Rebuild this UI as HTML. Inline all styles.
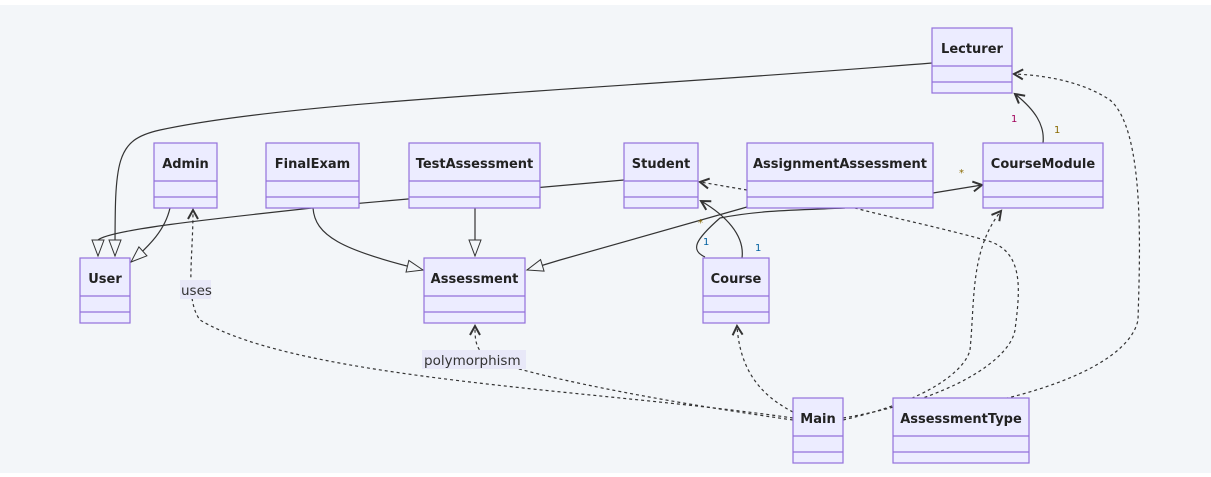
<!DOCTYPE html>
<html><head><style>
html,body{margin:0;padding:0;background:#fff;}
svg{display:block;}
text{font-family:"DejaVu Sans","Liberation Sans",sans-serif;}
</style></head><body>
<svg width="1211" height="477" viewBox="0 0 1211 477" xmlns="http://www.w3.org/2000/svg">
<defs>
<marker id="tri" markerWidth="20" markerHeight="20" refX="17" refY="7" orient="auto" markerUnits="userSpaceOnUse">
<path d="M1,1 L17,7 L1,13 Z" fill="#f3f6f9" stroke="#333" stroke-width="1"/></marker>
<marker id="arr" markerWidth="14" markerHeight="14" refX="10" refY="6" orient="auto" markerUnits="userSpaceOnUse">
<path d="M1,1 L10,6 L1,11" fill="none" stroke="#333" stroke-width="2"/></marker>
</defs>
<rect x="0" y="5" width="1211" height="468" fill="#f3f6f9"/>
<g fill="none" stroke="#333" stroke-width="1.2">
<path d="M932,63 C600,90 300,100 160,130 C115,140 115,160 115,256" marker-end="url(#tri)"/>
<path d="M170,208 C165,230 150,245 131,262" marker-end="url(#tri)"/>
<path d="M624,180 L340,205 C200,220 110,230 98,240 L98,256" marker-end="url(#tri)"/>
<path d="M313,208 C315,235 340,250 423,270" marker-end="url(#tri)"/>
<path d="M475,208 L475,256" marker-end="url(#tri)"/>
<path d="M747,207 L560,260 L527,270" marker-end="url(#tri)"/>
<path d="M742,258 C745,235 725,215 701,201" marker-end="url(#arr)"/>
<path d="M705,257 C690,250 695,240 720,218 C760,210 800,210 845,208"/>
<path d="M933,193 L982,185" marker-end="url(#arr)"/>
<path d="M1043,143 C1045,125 1035,110 1015,94" marker-end="url(#arr)"/>
</g>
<g fill="none" stroke="#333" stroke-width="1.2" stroke-dasharray="3,3">
<path d="M747,190 L700,182" marker-end="url(#arr)"/>
<path d="M793,418 C600,390 300,380 200,320 C185,300 193,260 193,210" marker-end="url(#arr)"/>
<path d="M793,420 C650,400 530,375 490,360 C475,350 475,340 475,326" marker-end="url(#arr)"/>
<path d="M793,412 C760,395 740,370 737,326" marker-end="url(#arr)"/>
<path d="M843,420 C930,400 965,370 970,350 C975,300 970,250 1001,211" marker-end="url(#arr)"/>
<path d="M843,418 C950,400 1010,360 1015,330 C1020,290 1025,250 985,240 C930,225 880,215 855,208"/>
<path d="M893,418 C1050,400 1130,360 1138,320 C1140,250 1145,130 1110,100 C1080,80 1040,75 1014,74" marker-end="url(#arr)"/>
</g>
<g font-size="10">
<text x="1011" y="122" fill="#a0005a">1</text>
<text x="1054" y="133" fill="#8a6a00">1</text>
<text x="959" y="176" fill="#8a6a00">*</text>
<text x="703" y="245" fill="#0060a0">1</text>
<text x="755" y="251" fill="#0060a0">1</text>
<text x="698" y="226" fill="#8a6a00">*</text>
</g>
<rect x="180" y="280" width="31" height="19" fill="#e8e8f8"/>
<text x="181" y="295" font-size="13.5" fill="#333">uses</text>
<rect x="422" y="350" width="104" height="19" fill="#e8e8f8"/>
<text x="424" y="365" font-size="13.5" fill="#333">polymorphism</text>
<g fill="#ececff" stroke="#9370db" stroke-width="1.2">
<rect x="932" y="28" width="80" height="65"/><line x1="932" y1="66" x2="1012" y2="66"/><line x1="932" y1="82" x2="1012" y2="82"/>
<rect x="154" y="143" width="63" height="65"/><line x1="154" y1="181" x2="217" y2="181"/><line x1="154" y1="197" x2="217" y2="197"/>
<rect x="266" y="143" width="93" height="65"/><line x1="266" y1="181" x2="359" y2="181"/><line x1="266" y1="197" x2="359" y2="197"/>
<rect x="409" y="143" width="131" height="65"/><line x1="409" y1="181" x2="540" y2="181"/><line x1="409" y1="197" x2="540" y2="197"/>
<rect x="624" y="143" width="74" height="65"/><line x1="624" y1="181" x2="698" y2="181"/><line x1="624" y1="197" x2="698" y2="197"/>
<rect x="747" y="143" width="186" height="65"/><line x1="747" y1="181" x2="933" y2="181"/><line x1="747" y1="197" x2="933" y2="197"/>
<rect x="983" y="143" width="120" height="65"/><line x1="983" y1="181" x2="1103" y2="181"/><line x1="983" y1="197" x2="1103" y2="197"/>
<rect x="80" y="258" width="50" height="65"/><line x1="80" y1="296" x2="130" y2="296"/><line x1="80" y1="312" x2="130" y2="312"/>
<rect x="424" y="258" width="101" height="65"/><line x1="424" y1="296" x2="525" y2="296"/><line x1="424" y1="312" x2="525" y2="312"/>
<rect x="703" y="258" width="66" height="65"/><line x1="703" y1="296" x2="769" y2="296"/><line x1="703" y1="312" x2="769" y2="312"/>
<rect x="793" y="398" width="50" height="65"/><line x1="793" y1="436" x2="843" y2="436"/><line x1="793" y1="452" x2="843" y2="452"/>
<rect x="893" y="398" width="136" height="65"/><line x1="893" y1="436" x2="1029" y2="436"/><line x1="893" y1="452" x2="1029" y2="452"/>
</g>
<g font-size="13" font-weight="bold" fill="#222" text-anchor="middle">
<text x="972" y="53">Lecturer</text>
<text x="185.5" y="168">Admin</text>
<text x="312.5" y="168">FinalExam</text>
<text x="474.5" y="168">TestAssessment</text>
<text x="661" y="168">Student</text>
<text x="840" y="168">AssignmentAssessment</text>
<text x="1043" y="168">CourseModule</text>
<text x="105" y="283">User</text>
<text x="474.5" y="283">Assessment</text>
<text x="736" y="283">Course</text>
<text x="818" y="423">Main</text>
<text x="961" y="423">AssessmentType</text>
</g>
</svg>
</body></html>
